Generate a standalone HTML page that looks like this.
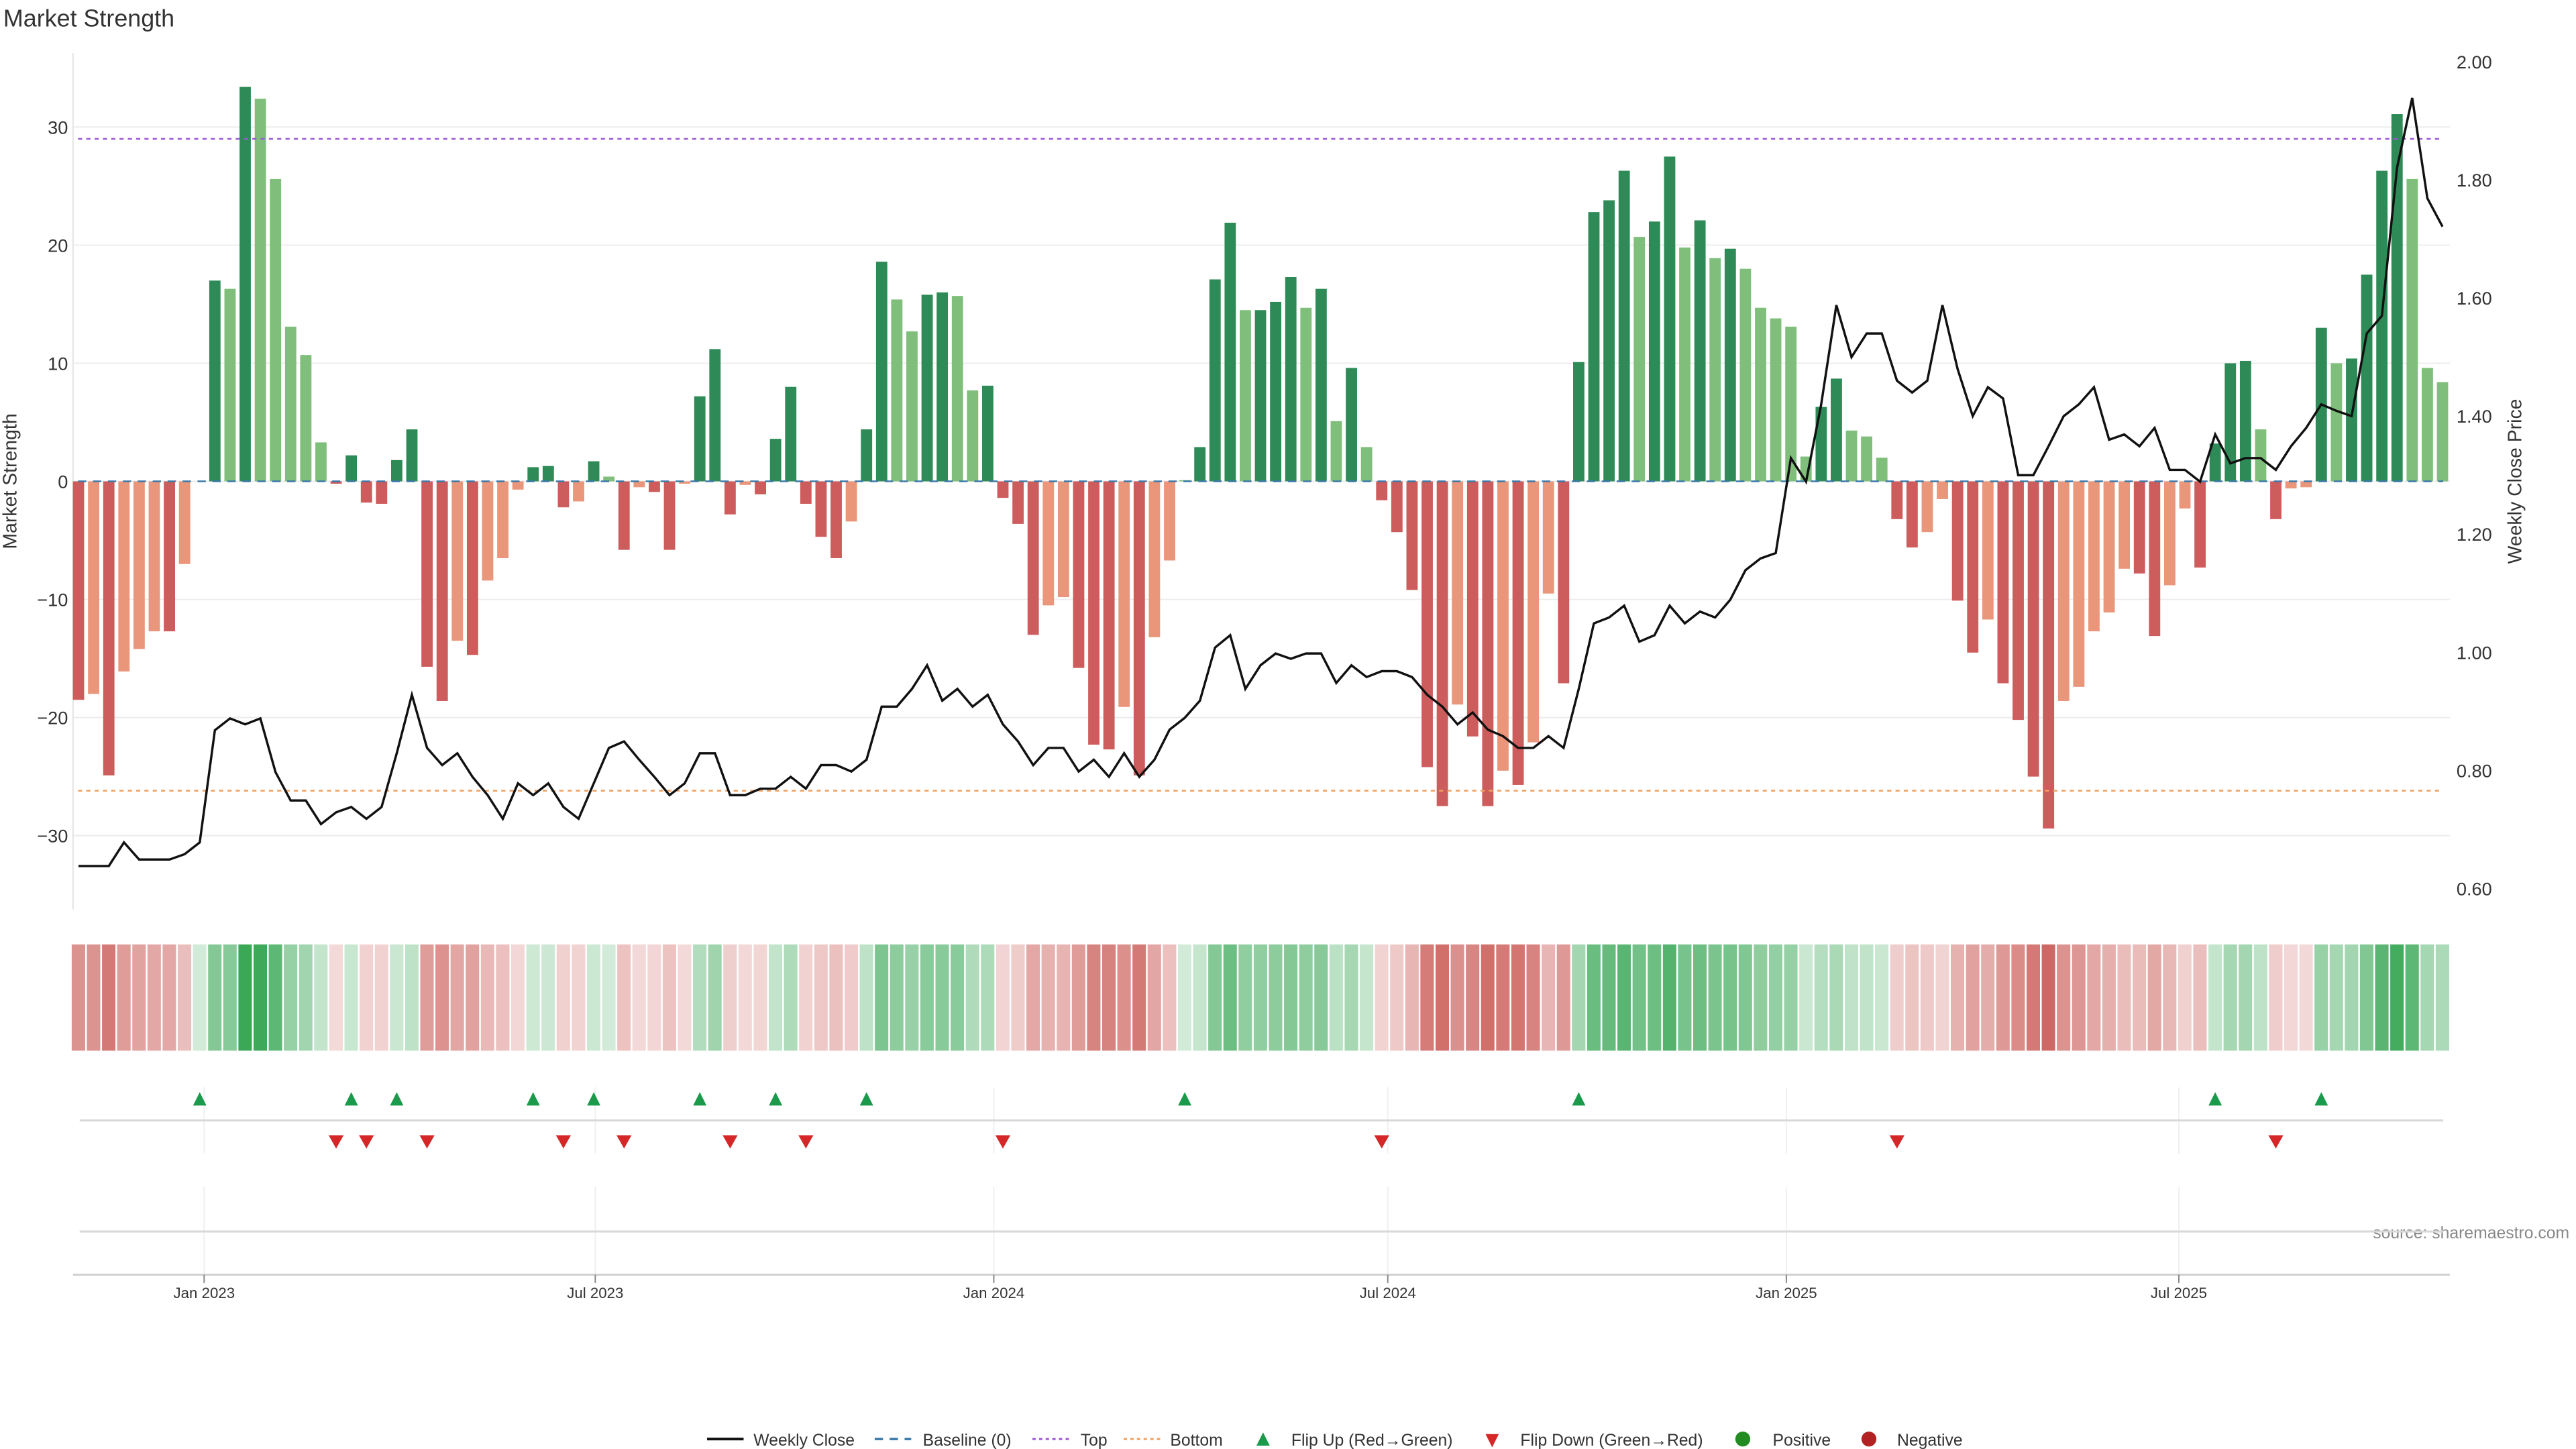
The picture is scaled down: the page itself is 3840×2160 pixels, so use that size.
<!DOCTYPE html>
<html><head><meta charset="utf-8"><style>
html,body{margin:0;padding:0;background:#fff;}
svg{display:block;font-family:"Liberation Sans","DejaVu Sans",sans-serif;}
</style></head><body>
<svg id="chart" width="3840" height="2160" viewBox="0 0 1552 873" xmlns="http://www.w3.org/2000/svg">
<rect width="1552" height="873" fill="#fff"/>
<text x="2" y="16" font-size="14.5" fill="#333">Market Strength</text>
<text transform="translate(10,290) rotate(-90)" text-anchor="middle" font-size="11.5" fill="#333">Market Strength</text>
<text transform="translate(1519,290) rotate(-90)" text-anchor="middle" font-size="11.5" fill="#333">Weekly Close Price</text>
<text x="1548" y="746" text-anchor="end" font-size="10" fill="#888">source: sharemaestro.com</text>
<g id="grid"></g><g id="bars"></g><g id="refs"></g><g id="line"></g><g id="strip"></g><g id="flips"></g><g id="xaxis"></g><g id="legend"></g>
</svg>
<script>
const values = [-18.5,-18.0,-24.9,-16.1,-14.2,-12.7,-12.7,-7.0,0,17.0,16.3,33.4,32.4,25.6,13.1,10.7,3.3,-0.2,2.2,-1.8,-1.9,1.8,4.4,-15.7,-18.6,-13.5,-14.7,-8.4,-6.5,-0.7,1.2,1.3,-2.2,-1.7,1.7,0.4,-5.8,-0.5,-0.9,-5.8,-0.2,7.2,11.2,-2.8,-0.3,
-1.1,3.6,8.0,-1.9,-4.7,-6.5,-3.4,4.4,18.6,15.4,12.7,15.8,16.0,15.7,7.7,8.1,-1.4,-3.6,-13.0,-10.5,-9.8,-15.8,-22.3,-22.7,-19.1,-24.9,-13.2,-6.7,0.1,2.9,17.1,21.9,14.5,14.5,15.2,17.3,14.7,16.3,5.1,9.6,2.9,-1.6,
-4.3,-9.2,-24.2,-27.5,-18.9,-21.6,-27.5,-24.5,-25.7,-22.1,-9.5,-17.1,10.1,22.8,23.8,26.3,20.7,22.0,27.5,19.8,22.1,18.9,19.7,18.0,14.7,13.8,13.1,2.1,6.3,8.7,4.3,3.8,2.0,-3.2,-5.6,-4.3,-1.5,-10.1,-14.5,-11.7,-17.1,-20.2,-25.0,
-29.4,-18.6,-17.4,-12.7,-11.1,-7.4,-7.8,-13.1,-8.8,-2.3,-7.3,3.2,10.0,10.2,4.4,-3.2,-0.6,-0.5,13.0,10.0,10.4,17.5,26.3,31.1,25.6,9.6,8.4];
const shades = ("RrRrrrRrZGgGgggggRGRRGGRRrRrrrGGRrGgRrRRrGGRr"+
"RGGRRRrGGggGGggGRRRrrRRRrRrrgGGGgGGGgGgGgR"+
"RRRRrRRrRrrR"+"GGGGgGGgGgGgggg"+"gGGggg"+"RRrrRRrRRR"+
"RrrrrrRRrrRGGGgRrrGgGGGGggg").split('');
const prices = [0.638,0.638,0.638,0.678,0.649,0.649,0.649,0.658,0.678,0.868,0.888,0.878,0.888,0.797,0.749,0.749,0.709,0.729,0.738,0.718,0.738,0.829,0.928,0.838,0.809,0.829,0.789,0.758,0.718,0.778,0.758,0.778,0.738,0.718,0.778,0.838,0.849,0.818,0.789,0.758,0.778,0.829,0.829,0.758,0.758,
0.769,0.769,0.789,0.769,0.809,0.809,0.798,0.818,0.908,0.908,0.938,0.978,0.918,0.938,0.908,0.928,0.878,0.849,0.809,0.838,0.838,0.798,0.818,0.789,0.829,0.789,0.818,0.869,0.889,0.918,1.008,1.029,0.938,0.978,0.998,0.989,0.998,0.998,0.948,0.978,0.958,0.968,
0.968,0.958,0.928,0.908,0.878,0.898,0.869,0.858,0.838,0.838,0.858,0.838,0.938,1.049,1.059,1.079,1.018,1.029,1.079,1.049,1.069,1.059,1.089,1.139,1.159,1.168,1.329,1.289,1.420,1.588,1.500,1.540,1.540,1.460,1.440,1.460,1.588,1.480,1.400,1.449,1.430,1.300,1.300,
1.349,1.400,1.420,1.449,1.360,1.369,1.349,1.380,1.309,1.309,1.289,1.369,1.320,1.329,1.329,1.309,1.349,1.380,1.420,1.409,1.400,1.540,1.570,1.821,1.939,1.769,1.721];
const flipUp = [8,18,21,30,34,41,46,52,73,99,141,148];
const flipDown = [17,19,23,32,36,43,48,61,86,120,145];
const yTicks = [30,20,10,0,-10,-20,-30];
const priceTicks = [2.0,1.8,1.6,1.4,1.2,1.0,0.8,0.6];
const topLevel = 29.0;
const bottomLevel = -26.2;
const dateTicks = ["Jan 2023","Jul 2023","Jan 2024","Jul 2024","Jan 2025","Jul 2025"];
const dateTickWeeks = [8.29,34.1,60.4,86.4,112.7,138.6];

const NS="http://www.w3.org/2000/svg";
function mk(tag,attrs,parent){const e=document.createElementNS(NS,tag);for(const k in attrs)e.setAttribute(k,attrs[k]);parent.appendChild(e);return e;}
const X0=47.3, DX=9.13;
function x(i){return X0+i*DX;}
function y(v){return 290-v*7.115;}
function yp(p){return 393-(p-1)*355.7;}
const G=id=>document.getElementById(id);

yTicks.forEach(t=>{
  const l=mk('line',{x1:44,x2:1476,y1:y(t),y2:y(t),stroke:'#ececec','stroke-width':0.8},G('grid'));
  
  
  const tx=mk('text',{x:41,y:y(t)+4,'text-anchor':'end','font-size':11,fill:'#333'},G('grid'));
  tx.textContent=(t<0?'\u2212'+(-t):t);
  
  
});
priceTicks.forEach(p=>{
  const tx=mk('text',{x:1480,y:yp(p)+4,'font-size':11,fill:'#333'},G('grid'));
  tx.textContent=p.toFixed(2);
  
  
});
mk('line',{x1:44,x2:44,y1:32,y2:548,stroke:'#e4e4e4','stroke-width':0.8},G('grid'));

const col={G:'#2e8b57',g:'#7fbf7b',R:'#cd5c5c',r:'#e9967a',Z:'#7fbf7b'};
values.forEach((v,i)=>{
  if(v===0)return;
  const b=mk('rect',{x:x(i)-3.4,width:6.8,y:Math.min(y(v),y(0)),height:Math.abs(y(v)-y(0)),fill:col[shades[i]]||(v>0?'#2e8b57':'#cd5c5c')},G('bars'));
  
  
});

let r=mk('line',{x1:47,x2:1472,y1:y(topLevel),y2:y(topLevel),stroke:'#9b59d6','stroke-width':1,'stroke-dasharray':'2.5,2.5'},G('refs'));

r=mk('line',{x1:47,x2:1472,y1:y(bottomLevel),y2:y(bottomLevel),stroke:'#f0a060','stroke-width':1,'stroke-dasharray':'2.5,2.5'},G('refs'));

r=mk('line',{x1:47,x2:1472,y1:y(0),y2:y(0),stroke:'#3a78a8','stroke-width':1,'stroke-dasharray':'5,4'},G('refs'));


const pl=mk('polyline',{points:prices.map((p,i)=>x(i)+','+yp(p)).join(' '),fill:'none',stroke:'#111','stroke-width':1.4},G('line'));



values.forEach((v,i)=>{
  const s=Math.min(1,Math.abs(v)/33);
  const a=0.22+0.75*s;
  const c=(v>0||shades[i]==='Z')?'rgba(52,165,82,'+a+')':'rgba(200,85,80,'+a+')';
  const c2=mk('rect',{x:x(i)-4.1,width:8.1,y:569,height:64,fill:c},G('strip'));
  
  
});

dateTickWeeks.forEach(w=>{
  mk('line',{x1:x(w),x2:x(w),y1:655,y2:695,stroke:'#eef0f2','stroke-width':0.8},G('flips'));
  mk('line',{x1:x(w),x2:x(w),y1:715,y2:768,stroke:'#eef0f2','stroke-width':0.8},G('flips'));
});
mk('line',{x1:48,x2:1472,y1:675,y2:675,stroke:'#d8d8d8','stroke-width':1.2},G('flips'));
mk('line',{x1:48,x2:1472,y1:742,y2:742,stroke:'#d8d8d8','stroke-width':1.2},G('flips'));
flipUp.forEach(i=>{
  const t=mk('polygon',{points:(x(i)-4)+',666 '+(x(i)+4)+',666 '+x(i)+',658',fill:'#1a9a4a'},G('flips'));
  
  
});
flipDown.forEach(i=>{
  const t=mk('polygon',{points:(x(i)-4.5)+',684 '+(x(i)+4.5)+',684 '+x(i)+',692',fill:'#d62728'},G('flips'));
  
  
});

mk('line',{x1:44,x2:1476,y1:768,y2:768,stroke:'#d0d0d0','stroke-width':1.2},G('xaxis'));
dateTicks.forEach((lab,k)=>{
  const xx=x(dateTickWeeks[k]);
  mk('line',{x1:xx,x2:xx,y1:768,y2:773,stroke:'#888','stroke-width':0.8},G('xaxis'));
  const t=mk('text',{x:xx,y:782,'text-anchor':'middle','font-size':9,fill:'#333'},G('xaxis'));
  t.textContent=lab;
  
  
});

const L=G('legend'), ly=867;
function ltext(xx,s){const t=mk('text',{x:xx,y:ly+4,'font-size':10,fill:'#333'},L);t.textContent=s;}
mk('line',{x1:426,x2:448,y1:ly,y2:ly,stroke:'#111','stroke-width':1.6},L);ltext(454,'Weekly Close');
mk('line',{x1:527,x2:549,y1:ly,y2:ly,stroke:'#3a78a8','stroke-width':1.4,'stroke-dasharray':'5,4'},L);ltext(556,'Baseline (0)');
mk('line',{x1:622,x2:645,y1:ly,y2:ly,stroke:'#9b59d6','stroke-width':1.2,'stroke-dasharray':'2,2'},L);ltext(651,'Top');
mk('line',{x1:677,x2:700,y1:ly,y2:ly,stroke:'#f0a060','stroke-width':1.2,'stroke-dasharray':'2,2'},L);ltext(705,'Bottom');
mk('polygon',{points:'757,871 765,871 761,863',fill:'#1a9a4a'},L);ltext(778,'Flip Up (Red\u2192Green)');
mk('polygon',{points:'895,864 903,864 899,872',fill:'#d62728'},L);ltext(916,'Flip Down (Green\u2192Red)');
mk('circle',{cx:1050,cy:ly,r:4.5,fill:'#228b22'},L);ltext(1068,'Positive');
mk('circle',{cx:1126,cy:ly,r:4.5,fill:'#b22222'},L);ltext(1143,'Negative');
</script>
</body></html>
